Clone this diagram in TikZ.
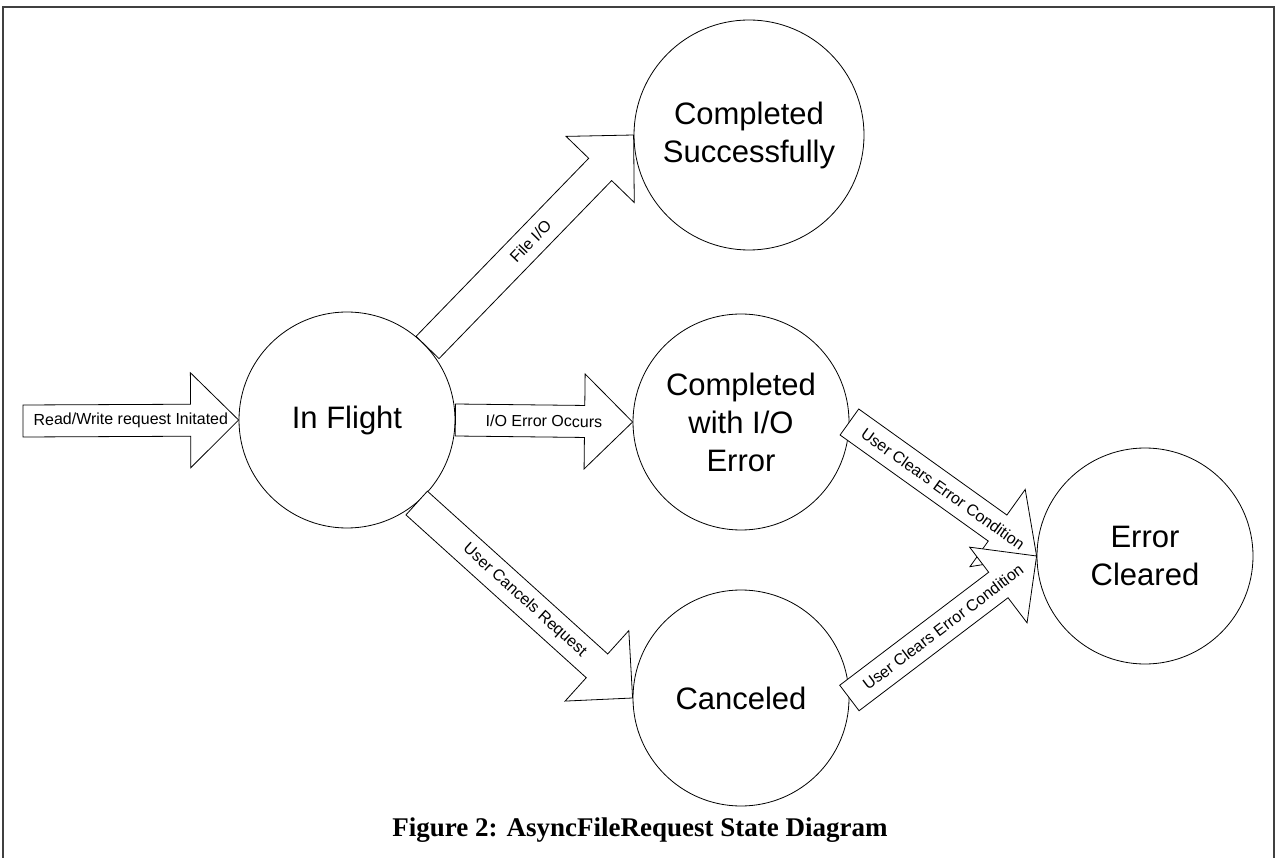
\documentclass[tikz,border=0pt]{standalone}
\usepackage{fontspec}
\setmainfont{Liberation Sans}
\newfontfamily\capfont{Liberation Serif}
\usetikzlibrary{calc}
\tikzset{
  state/.style={circle, draw, line width=0.8pt, minimum size=216pt, inner sep=0pt, align=center, font=\fontsize{31}{38}\selectfont},
  blockarrow/.style={draw, line width=0.8pt, fill=white, line join=miter},
  arrowlabel/.style={font=\fontsize{16}{19}\selectfont, inner sep=0pt},
  frame/.style={draw=black!75, line width=2pt},
}
\newcommand\blockarr[3]{%
  \coordinate (h) at ($(#2)!48pt!(#1)$);
  \draw[blockarrow] ($(#1)!16pt!90:(#2)$) -- ($(h)!16pt!-90:(#1)$) -- ($(h)!47.5pt!-90:(#1)$) -- (#2) -- ($(h)!47.5pt!90:(#1)$) -- ($(h)!16pt!90:(#1)$) -- ($(#1)!16pt!-90:(#2)$) -- cycle;
  \path (#1) -- (#2) node[midway, sloped, arrowlabel] {#3};
}
\begin{document}
\begin{tikzpicture}[x=1pt, y=-1pt]
\useasboundingbox (0,0) rectangle (1275,858);
\fill[white] (0,0) rectangle (1275,858);
\draw[frame] (3,870) -- (3,7) -- (1274,7) -- (1274,870);

\node[state] (inflight) at (347,420) {In Flight};
\node[state, minimum size=230pt] (succ) at (749,135) {Completed\\Successfully};
\node[state] (ioerr) at (741,422) {Completed\\with I/O\\Error};
\node[state] (cancel) at (741,698) {Canceled};
\node[state] (cleared) at (1145,556) {Error\\Cleared};

\coordinate (start) at (23,421);
\blockarr{start}{inflight.west}{Read/Write request Initated}
\blockarr{inflight.42}{succ.west}{File I/O}
\blockarr{inflight.east}{ioerr.west}{I/O Error Occurs}
\blockarr{inflight.-50}{cancel.west}{User Cancels Request}
\blockarr{ioerr.east}{cleared.west}{User Clears Error Condition}
\blockarr{cancel.east}{cleared.west}{User Clears Error Condition}

\node[font=\capfont\bfseries\fontsize{27}{30}\selectfont, anchor=base] (caption) at (640,836) {Figure 2: AsyncFileRequest State Diagram};
\end{tikzpicture}
\end{document}
